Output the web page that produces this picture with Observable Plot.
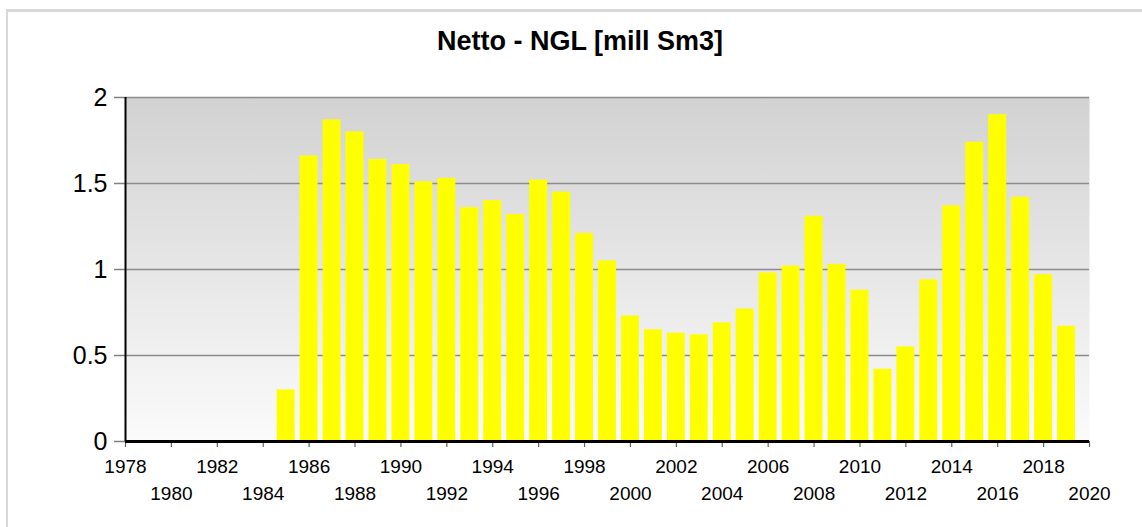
<!DOCTYPE html>
<html>
<head>
<meta charset="utf-8">
<script src="https://cdn.jsdelivr.net/npm/d3@7"></script>
<script src="https://cdn.jsdelivr.net/npm/@observablehq/plot@0.6"></script>
<style>
  html, body { margin: 0; padding: 0; background: #ffffff; }
  body { width: 1142px; height: 527px; position: relative; overflow: hidden; font-family: "Liberation Sans", Arial, sans-serif; }
  #frame { position: absolute; left: 6px; top: 9px; right: -4px; bottom: -4px; border-top: 3px solid #d9d9d9; border-left: 2px solid #d9d9d9; }
  #title { position: absolute; left: 18px; top: 28px; width: 1124px; text-align: center; font-weight: bold; font-size: 27px; line-height: 27px; color: #000; }
  #chart { position: absolute; left: 0; top: 67px; }
</style>
</head>
<body>
<div id="frame"></div>
<div id="title">Netto - NGL [mill Sm3]</div>
<div id="chart"></div>
<script>
const years = [1985, 1986, 1987, 1988, 1989, 1990, 1991, 1992, 1993, 1994,
               1995, 1996, 1997, 1998, 1999, 2000, 2001, 2002, 2003, 2004,
               2005, 2006, 2007, 2008, 2009, 2010, 2011, 2012, 2013, 2014,
               2015, 2016, 2017, 2018, 2019];
const values = [0.30, 1.66, 1.87, 1.80, 1.64, 1.61, 1.51, 1.53, 1.36, 1.40,
                1.32, 1.52, 1.45, 1.21, 1.05, 0.73, 0.65, 0.63, 0.62, 0.69,
                0.77, 0.98, 1.02, 1.31, 1.03, 0.88, 0.42, 0.55, 0.94, 1.37,
                1.74, 1.90, 1.42, 0.97, 0.67];
const xTopRow = [1978, 1982, 1986, 1990, 1994, 1998, 2002, 2006, 2010, 2014, 2018];
const xBottomRow = [1980, 1984, 1988, 1992, 1996, 2000, 2004, 2008, 2012, 2016, 2020];
const yTicks = [0, 0.5, 1, 1.5, 2];

const data = years.map((year, i) => ({year, value: values[i]}));

const svg = Plot.plot({
  width: 1142,
  height: 460,
  marginTop: 30,
  marginBottom: 86,
  marginLeft: 125,
  marginRight: 53,
  style: {fontFamily: "'Liberation Sans', Arial, sans-serif", fontSize: "19px", color: "#000", background: "transparent", overflow: "visible"},
  x: {domain: [1978, 2020], label: null},
  y: {domain: [0, 2], label: null},
  marks: [
    Plot.frame({fill: "url(#bgGrad)", stroke: "none"}),
    Plot.gridY(yTicks.filter(d => d > 0), {stroke: "#8c8c8c", strokeOpacity: 1, strokeWidth: 1.5}),
    Plot.rectY(data, {x1: d => d.year - 0.5, x2: d => d.year + 0.5, y: "value", fill: "#ffff00", insetLeft: 2.5, insetRight: 2.5}),
    Plot.axisY(yTicks, {tickSize: 11, tickPadding: 7, fontSize: 25, color: "#000", stroke: "#808080", strokeWidth: 1.5, tickFormat: d => String(d), label: null}),
    Plot.axisX(xTopRow, {tickSize: 6, tickPadding: 12, fontSize: 19, color: "#000", stroke: "#606060", strokeWidth: 1.2, tickFormat: d => String(d), label: null}),
    Plot.axisX(xBottomRow, {tickSize: 6, tickPadding: 39, fontSize: 19, color: "#000", stroke: "#606060", strokeWidth: 1.2, tickFormat: d => String(d), label: null}),
    Plot.ruleX([1978], {stroke: "#000", strokeWidth: 2}),
    Plot.ruleY([0], {stroke: "#000", strokeWidth: 3})
  ]
});

const defs = document.createElementNS("http://www.w3.org/2000/svg", "defs");
defs.innerHTML = '<linearGradient id="bgGrad" x1="0" y1="0" x2="0" y2="1"><stop offset="0" stop-color="#d2d2d2"/><stop offset="1" stop-color="#fbfbfb"/></linearGradient>';
svg.insertBefore(defs, svg.firstChild);
document.getElementById("chart").appendChild(svg);
</script>
</body>
</html>
